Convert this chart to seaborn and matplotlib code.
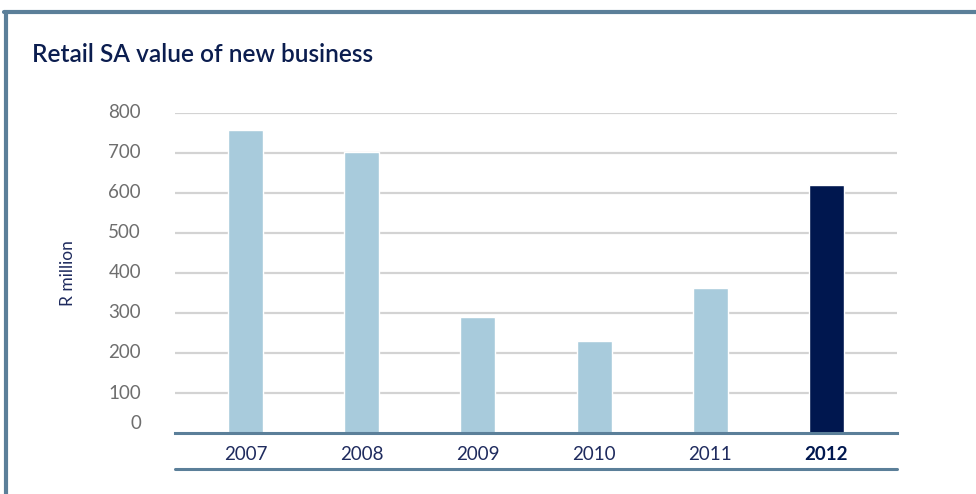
import matplotlib
matplotlib.use("Agg")
import matplotlib.pyplot as plt
import matplotlib.transforms as mtrans
import seaborn as sns
import pandas as pd
from matplotlib.lines import Line2D

years = ["2007", "2008", "2009", "2010", "2011", "2012"]
values = [758, 703, 290, 230, 362, 620]
highlight = ["past", "past", "past", "past", "past", "current"]
yticks = [0, 100, 200, 300, 400, 500, 600, 700, 800]

LIGHT = "#a8cbdc"
NAVY = "#00174f"
FRAME = "#5b7f99"
GRID = "#d3d3d3"

df = pd.DataFrame({"year": years, "value": values, "kind": highlight})

sns.set_theme(style="white")
plt.rcParams["font.family"] = ["Lato", "DejaVu Sans"]

fig = plt.figure(figsize=(9.76, 4.94), dpi=100)
W, H = 976, 494
ax = fig.add_axes([175 / W, (H - 433) / H, (897 - 175) / W, (433 - 113) / H])

sns.barplot(data=df, x="year", y="value", hue="kind",
            palette={"past": LIGHT, "current": NAVY},
            dodge=False, width=0.30, legend=False, ax=ax, zorder=3,
            saturation=1)

ax.set_ylim(0, 800)
ax.set_xlim(-0.607, 5.607)
ax.set_yticks(yticks)
ax.set_yticklabels([str(t) for t in yticks])
for t in yticks[1:]:
    ax.axhline(t, color=GRID, lw=1.6, zorder=1)

for s in ["top", "right", "left"]:
    ax.spines[s].set_visible(False)
ax.spines["bottom"].set_color(FRAME)
ax.spines["bottom"].set_linewidth(2.2)
ax.spines["bottom"].set_zorder(4)

ax.tick_params(axis="y", length=0, pad=24.5)
ax.tick_params(axis="x", length=0, pad=9)
for lab in ax.get_yticklabels():
    lab.set_fontsize(13.5)
    lab.set_color("#6e6e6e")
    lab.set_fontweight("normal")
    lab.set_verticalalignment("center")
for lab in ax.get_xticklabels():
    lab.set_fontsize(13.5)
    if lab.get_text() == "2012":
        lab.set_fontweight("bold")
        lab.set_color(NAVY)
    else:
        lab.set_fontweight("normal")
        lab.set_color("#1f2b5e")
ylabs = ax.get_yticklabels()
ylabs[0].set_transform(ylabs[0].get_transform() + mtrans.ScaledTranslation(0, 10 / 100, fig.dpi_scale_trans))

ax.set_xlabel("")
ax.set_ylabel("R million", color="#1f2b5e", fontsize=12.5, labelpad=23)

fig.text(32 / W, 1 - 55 / H, "Retail SA value of new business", fontsize=17.6,
         color="#0b1d4f", fontweight="semibold", va="center", ha="left")

fig.add_artist(Line2D([175 / W, 897 / W], [1 - 469 / H, 1 - 469 / H],
                      color=FRAME, lw=2.2, transform=fig.transFigure))
fig.add_artist(Line2D([5.5 / W, 5.5 / W], [0, 1 - 12 / H],
                      color=FRAME, lw=3, transform=fig.transFigure))
fig.add_artist(Line2D([4 / W, 1], [1 - 12 / H, 1 - 12 / H],
                      color=FRAME, lw=3, transform=fig.transFigure))

fig.savefig("out.png", dpi=100)
